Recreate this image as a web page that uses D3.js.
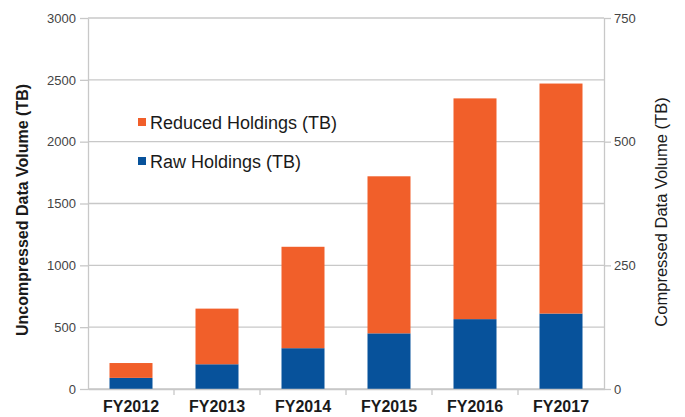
<!DOCTYPE html>
<html><head><meta charset="utf-8">
<script src="https://cdn.jsdelivr.net/npm/d3@7"></script>
<style>body{margin:0;background:#fff}svg{display:block;font-family:"Liberation Sans",Arial,sans-serif}</style>
</head><body><svg id="c" width="685" height="417"></svg>
<script>
const categories = ["FY2012","FY2013","FY2014","FY2015","FY2016","FY2017"];
const rawHoldings = [90, 200, 330, 450, 565, 610];
const reducedHoldings = [120, 450, 820, 1270, 1785, 1860];
const leftTicks = [0,500,1000,1500,2000,2500,3000];
const rightTicks = [0,250,500,750];
const seriesNames = ["Reduced Holdings (TB)","Raw Holdings (TB)"];
const colors = {raw:"#07529b", reduced:"#f15f2a"};

const svg = d3.select("#c");
const m = {l:88, r:604, t:18, b:389};
const x = d3.scaleBand().domain(categories).range([m.l,m.r]).paddingInner(0.5).paddingOuter(0.25);
const y = d3.scaleLinear().domain([0,3000]).range([m.b,m.t]);
const y2 = d3.scaleLinear().domain([0,750]).range([m.b,m.t]);
const FONT = "Liberation Sans, Arial, sans-serif";

// gridlines
svg.append("g").selectAll("line").data(leftTicks).join("line")
  .attr("x1",m.l).attr("x2",m.r).attr("y1",d=>y(d)).attr("y2",d=>y(d))
  .attr("stroke","#c8c8c8").attr("stroke-width",1.3);

// bars
const data = categories.map((c,i)=>({c, raw:rawHoldings[i], red:reducedHoldings[i]}));
const g = svg.append("g");
g.selectAll(".raw").data(data).join("rect").attr("class","raw")
  .attr("x",d=>x(d.c)).attr("width",x.bandwidth())
  .attr("y",d=>y(d.raw)).attr("height",d=>y(0)-y(d.raw)).attr("fill",colors.raw);
g.selectAll(".red").data(data).join("rect").attr("class","red")
  .attr("x",d=>x(d.c)).attr("width",x.bandwidth())
  .attr("y",d=>y(d.raw+d.red)).attr("height",d=>y(d.raw)-y(d.raw+d.red)).attr("fill",colors.reduced);

// left axis
const la = svg.append("g").attr("transform",`translate(${m.l},0)`)
  .call(d3.axisLeft(y).tickValues(leftTicks).tickFormat(d3.format("d")).tickSize(8).tickPadding(4).tickSizeOuter(0));
la.select(".domain").attr("stroke","#c8c8c8").attr("stroke-width",1.3);
la.selectAll(".tick line").attr("stroke","#c8c8c8").attr("stroke-width",1.3);
la.selectAll("text").attr("font-size",13).attr("fill","#444").attr("font-family",FONT);

// right axis
const ra = svg.append("g").attr("transform",`translate(${m.r},0)`)
  .call(d3.axisRight(y2).tickValues(rightTicks).tickFormat(d3.format("d")).tickSize(7).tickPadding(3).tickSizeOuter(0));
ra.select(".domain").attr("stroke","#c8c8c8").attr("stroke-width",1.3);
ra.selectAll(".tick line").attr("stroke","#c8c8c8").attr("stroke-width",1.3);
ra.selectAll("text").attr("font-size",13).attr("fill","#444").attr("font-family",FONT);

// bottom axis
const ba = svg.append("g").attr("transform",`translate(0,${m.b})`)
  .call(d3.axisBottom(x).tickSize(0).tickPadding(12).tickSizeOuter(0));
ba.select(".domain").attr("stroke","#c8c8c8").attr("stroke-width",1.3);
ba.selectAll("text").attr("font-size",16).attr("font-weight","bold").attr("fill","#1a1a1a")
  .attr("font-family",FONT);
// category separators
ba.append("g").selectAll("line").data(categories.slice(1)).join("line")
  .attr("x1",d=>x(d)-(x.step()-x.bandwidth())/2).attr("x2",d=>x(d)-(x.step()-x.bandwidth())/2)
  .attr("y1",0).attr("y2",6).attr("stroke","#c8c8c8").attr("stroke-width",1.3);

// axis titles
svg.append("text").attr("transform","translate(28,210) rotate(-90)").attr("text-anchor","middle")
  .attr("font-size",16).attr("font-weight","bold").attr("fill","#1a1a1a").text("Uncompressed Data Volume (TB)");
svg.append("text").attr("transform","translate(667,212) rotate(-90)").attr("text-anchor","middle")
  .attr("font-size",16.5).attr("fill","#1a1a1a").text("Compressed Data Volume (TB)");

// legend
const legendColors = [colors.reduced, colors.raw];
const lg = svg.append("g").selectAll("g").data(seriesNames).join("g")
  .attr("transform",(d,i)=>`translate(138,${122 + i*39})`);
lg.append("rect").attr("x",0).attr("y",-4).attr("width",8).attr("height",8).attr("fill",(d,i)=>legendColors[i]);
lg.append("text").attr("x",12).attr("y",6.5).attr("font-size",18).attr("fill","#1a1a1a").text(d=>d);
</script></body></html>
